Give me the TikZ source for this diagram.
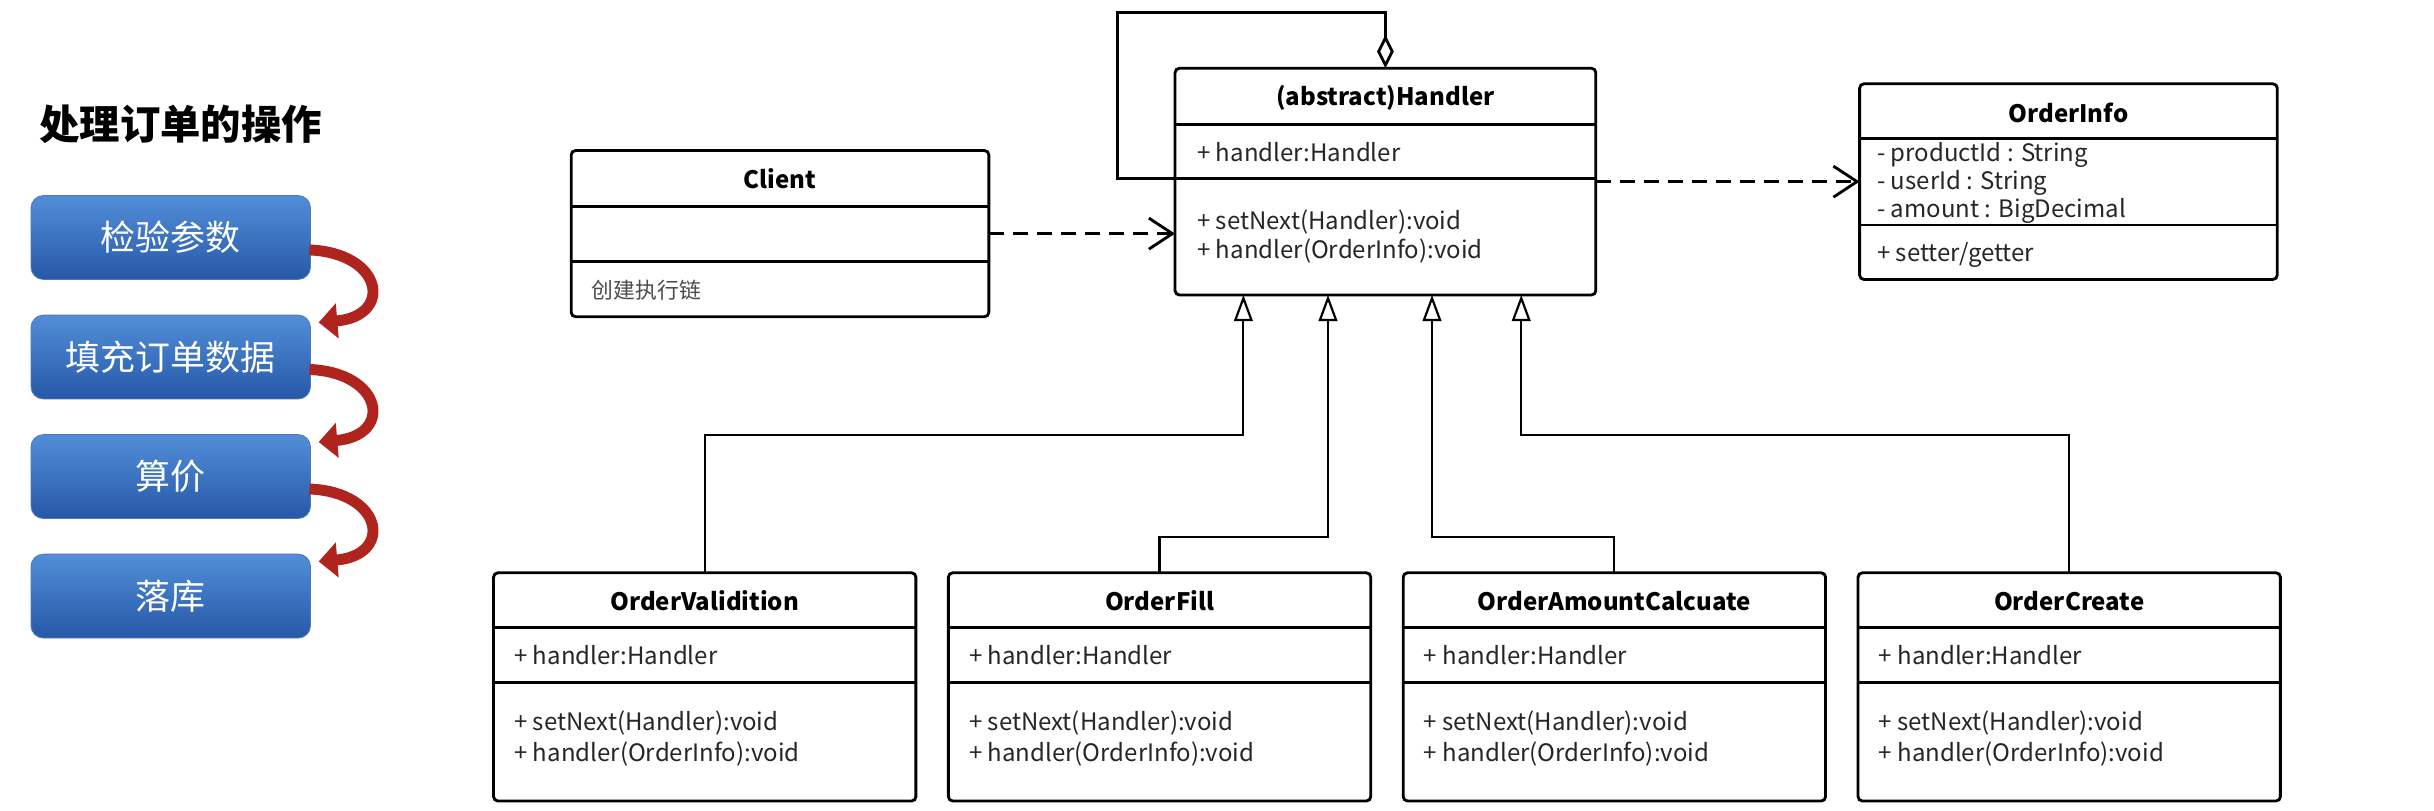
\documentclass[tikz,border=0pt]{standalone}
\usepackage{fontspec}
\setmainfont{Noto Sans CJK SC}
\usetikzlibrary{arrows.meta,calc,positioning}
\definecolor{boxtop}{RGB}{82,142,216}
\definecolor{boxbot}{RGB}{38,88,168}
\definecolor{flowred}{RGB}{176,36,30}
\tikzset{
  cls/.style={draw,line width=1.3pt,rounded corners=2pt,inner sep=0pt,outer sep=0pt,minimum width=6.8cm,minimum height=3.675cm},
  ttl/.style={font=\fontsize{11}{13}\selectfont\bfseries,inner sep=0pt},
  txt/.style={font=\fontsize{11}{13}\selectfont,anchor=west,inner sep=0pt,text=black!85},
  sep/.style={line width=1.3pt},
  gen/.style={line width=1pt,-{Triangle[open,length=0.42cm,width=0.3cm]}},
  dep/.style={line width=1.3pt,dash pattern=on 7pt off 4pt,-{Straight Barb[length=0.38cm,width=0.5cm]}},
  agg/.style={line width=1.3pt,-{Diamond[open,length=0.54cm,width=0.27cm]}},
  stepbox/.style={rounded corners=0.2cm,top color=boxtop,bottom color=boxbot,draw=boxbot!80!white,minimum width=4.5cm,minimum height=1.35cm,text=white,font=\fontsize{16}{18}\selectfont},
  flow/.style={line width=5pt,draw=flowred,-{Triangle[length=0.3cm,width=0.55cm]}}
}
\begin{document}
\begin{tikzpicture}[x=0.025cm,y=-0.025cm]
\fill[white] (0,0) rectangle (1568,522);
\node[anchor=west,inner sep=0pt,font=\fontsize{18.5}{20}\selectfont\bfseries] (T) at (25,80) {处理订单的操作};
\foreach \i/\t in {1/检验参数,2/填充订单数据,3/算价,4/落库}{
  \node[stepbox] (s\i) at (110,{153+77*(\i-1)}) {\t};
}
\foreach \i/\j in {1/2,2/3,3/4}{
  \draw[flow] ($(s\i.east)+(-1,8)$) .. controls +(48,2) and +(48,-4) .. ($(s\j.north east)+(5,5)$);
}
\node[cls,minimum width=6.775cm,minimum height=3.65cm] (H) at (892.5,117) {};
\draw[sep] ($(H.north west)+(0,36)$) -- ($(H.north east)+(0,36)$);
\draw[sep] ($(H.north west)+(0,71)$) -- ($(H.north east)+(0,71)$);
\node[ttl] (Ht) at (892.5,63) {(abstract)Handler};
\node[txt] (Ha) at (771,98) {+ handler:Handler};
\node[txt] (Hm1) at (771,143) {+ setNext(Handler):void};
\node[txt] (Hm2) at (771,162) {+ handler(OrderInfo):void};
\node[cls,minimum width=6.725cm,minimum height=2.675cm] (Cl) at (502.5,150.5) {};
\draw[sep] ($(Cl.north west)+(0,36)$) -- ($(Cl.north east)+(0,36)$);
\draw[sep] ($(Cl.north west)+(0,71.5)$) -- ($(Cl.north east)+(0,71.5)$);
\node[ttl] (Clt) at (502.5,115) {Client};
\node[txt,font=\fontsize{10}{12}\selectfont,text=black!70] (Clm) at (381,187) {创建执行链};
\node[cls,minimum width=6.725cm,minimum height=3.15cm] (I) at (1332.5,117) {};
\draw[sep] ($(I.north west)+(0,35)$) -- ($(I.north east)+(0,35)$);
\draw[sep] ($(I.north west)+(0,91)$) -- ($(I.north east)+(0,91)$);
\node[ttl] (It) at (1332.5,73) {OrderInfo};
\node[txt] (Ia1) at (1209,100) {- productId : String};
\node[txt] (Ia2) at (1209,118) {- userId : String};
\node[txt] (Ia3) at (1209,136) {- amount : BigDecimal};
\node[txt] (Im) at (1209,164) {+ setter/getter};
\foreach \n/\cx/\t in {V/454/OrderValidition,F/747/OrderFill,A/1040/OrderAmountCalcuate,C/1333/OrderCreate}{
  \node[cls] (\n) at (\cx,442.5) {};
  \draw[sep] ($(\n.north west)+(0,35.5)$) -- ($(\n.north east)+(0,35.5)$);
  \draw[sep] ($(\n.north west)+(0,70.5)$) -- ($(\n.north east)+(0,70.5)$);
  \node[ttl] (\n-t) at (\cx,387) {\t};
  \node[txt] (\n-a) at (\cx-123,422) {+ handler:Handler};
  \node[txt] (\n-m1) at (\cx-123,466) {+ setNext(Handler):void};
  \node[txt] (\n-m2) at (\cx-123,486) {+ handler(OrderInfo):void};
}
\foreach \k/\dx in {1/-91.5,2/-37,3/30,4/87.5}{
  \coordinate (h\k) at ($(H.south)+(\dx,0)$);
}
\draw[gen] (V.north) -- ++(0,-89) -| (h1);
\draw[gen] (F.north) -- ++(0,-23) -| (h2);
\draw[gen] (A.north) -- ++(0,-23) -| (h3);
\draw[gen] (C.north) -- ++(0,-89) -| (h4);
\coordinate (hl) at ($(H.north west)+(0,71)$);
\draw[agg] (hl) -- ++(-37,0) -- ++(0,-107) -| (H.north);
\draw[dep] (Cl.east) -- (Cl.east -| H.west);
\draw[dep] (H.east) -- (I.west);
\end{tikzpicture}
\end{document}
